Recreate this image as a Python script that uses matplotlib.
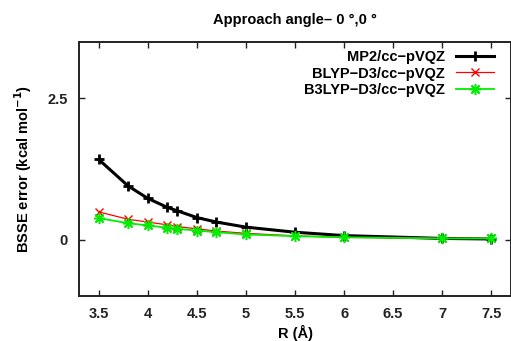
import matplotlib
matplotlib.use('Agg')
import matplotlib.pyplot as plt

plt.rcParams['font.family'] = ['Liberation Sans', 'DejaVu Sans']
plt.rcParams['font.weight'] = 'bold'
plt.rcParams['mathtext.default'] = 'bf'

# R values (Angstrom) and BSSE errors (kcal/mol)
r = [3.5, 3.8, 4.0, 4.2, 4.3, 4.5, 4.7, 5.0, 5.5, 6.0, 7.0, 7.5]
mp2 = [1.42, 0.95, 0.73, 0.57, 0.51, 0.39, 0.31, 0.22, 0.13, 0.07, 0.02, 0.01]
blyp = [0.49, 0.36, 0.31, 0.26, 0.23, 0.19, 0.15, 0.11, 0.065, 0.04, 0.02, 0.02]
b3lyp = [0.38, 0.29, 0.25, 0.21, 0.19, 0.16, 0.13, 0.09, 0.06, 0.04, 0.02, 0.02]

labels = ['MP2/cc\u2212pVQZ', 'BLYP\u2212D3/cc\u2212pVQZ', 'B3LYP\u2212D3/cc\u2212pVQZ']
xticks = [3.5, 4, 4.5, 5, 5.5, 6, 6.5, 7, 7.5]
yticks = [0, 2.5]

fs = 10.5
fig = plt.figure(figsize=(5.11, 3.41), dpi=100)
ax = fig.add_axes([79/511, 1 - 296/341, 432/511, 254/341])

ax.plot(r, mp2, color='black', lw=2.2, marker='+', ms=7, mew=2, label=labels[0])
ax.plot(r, blyp, color='red', lw=0.9, marker='x', ms=6, mew=1, label=labels[1])
ax.plot(r, b3lyp, color='#00ee00', lw=1.3, marker=(8, 2, 0), ms=8, mew=1.1, label=labels[2])

ax.set_xlim(3.3, 7.7)
ax.set_ylim(-1, 3.5)
ax.set_xticks(xticks)
ax.set_xticklabels([f'{t:g}' for t in xticks])
ax.set_yticks(yticks)
ax.set_yticklabels(['0', '2.5'])
ax.tick_params(direction='in', top=True, right=True, length=4, width=1,
               labelsize=fs, colors='#222222', pad=8)
for s in ax.spines.values():
    s.set_linewidth(1.4)
    s.set_color('#222222')

ax.set_xlabel('R (\u00c5)', fontsize=fs, fontweight='bold', labelpad=3)
ax.set_ylabel('BSSE error (kcal mol$^{-1}$)', fontsize=fs, fontweight='bold', labelpad=10)
ax.set_title('Approach angle\u2013 0 \u00b0,0 \u00b0', fontsize=fs, fontweight='bold', pad=13)

leg = ax.legend(loc='upper right', frameon=False, markerfirst=False, fontsize=fs,
                handlelength=2.6, labelspacing=0.15, borderaxespad=0.3,
                handletextpad=0.8, borderpad=0.1, bbox_to_anchor=(0.975, 0.99))
for t in leg.get_texts():
    t.set_ha('right')
    t.set_fontweight('bold')
leg._legend_box.align = 'right'

fig.savefig('out.png', dpi=100)
